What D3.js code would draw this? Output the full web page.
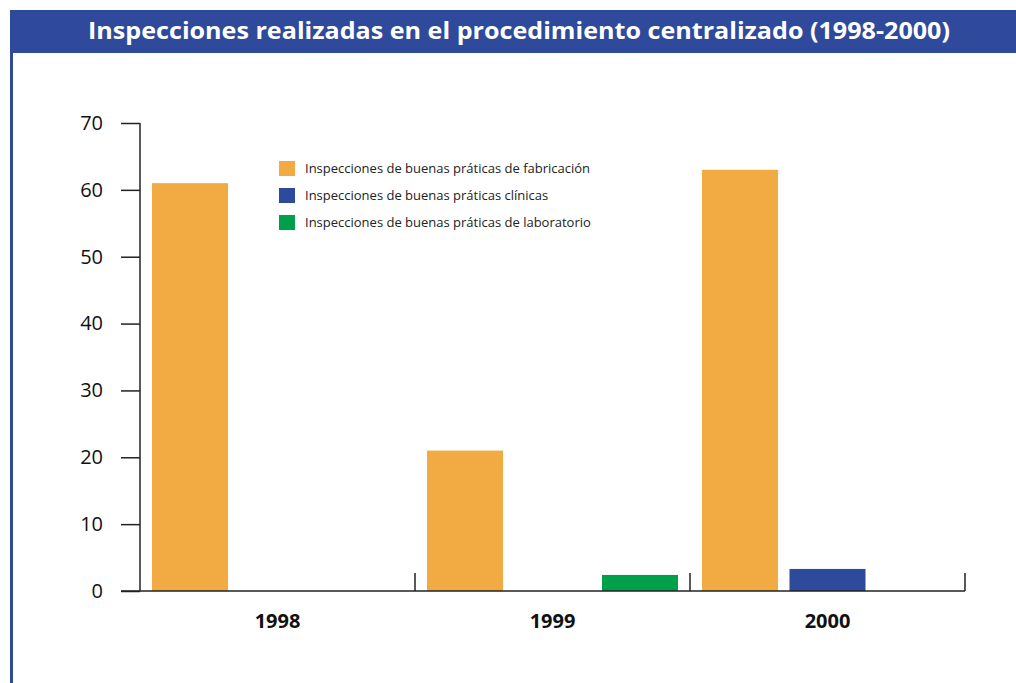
<!DOCTYPE html>
<html>
<head>
<meta charset="utf-8">
<script src="https://cdn.jsdelivr.net/npm/d3@7"></script>
<style>
  body { margin: 0; background: #fff; }
  svg { display: block; }
</style>
</head>
<body>
<div id="chart"></div>
<script>
// Chart data
const years = ["1998", "1999", "2000"];
const seriesNames = [
    "Inspecciones de buenas práticas de fabricación",
    "Inspecciones de buenas práticas clínicas",
    "Inspecciones de buenas práticas de laboratorio"
];
const fabricacion = [61, 21, 63];
const clinicas = [0, 0, 3.3];
const laboratorio = [0, 2.4, 0];
const yTicks = [0, 10, 20, 30, 40, 50, 60, 70];
const titleText = "Inspecciones realizadas en el procedimiento centralizado (1998-2000)";

const colors = ["#f2aa43", "#2e4a9a", "#00a04b"];
const bannerColor = "#2f4a9a";

const W = 1016, H = 683;
const svg = d3.select("#chart").append("svg")
    .attr("width", W)
    .attr("height", H);

// Banner and left rule
svg.append("rect")
    .attr("x", 10).attr("y", 10)
    .attr("width", W - 10).attr("height", 43)
    .attr("fill", bannerColor);
svg.append("rect")
    .attr("x", 10).attr("y", 50)
    .attr("width", 3).attr("height", H - 50)
    .attr("fill", bannerColor);

svg.append("text")
    .attr("x", 519)
    .attr("y", 39)
    .attr("text-anchor", "middle")
    .attr("fill", "#fff")
    .style("font-family", "'Open Sans', sans-serif")
    .style("font-weight", "bold")
    .style("font-size", "23px")
    .attr("textLength", 862)
    .attr("lengthAdjust", "spacingAndGlyphs")
    .text(titleText);

// Scales
const x0 = d3.scaleBand()
    .domain(years)
    .range([140, 965])
    .paddingInner(0)
    .paddingOuter(0);

const x1 = d3.scaleBand()
    .domain(d3.range(3))
    .range([12, x0.bandwidth() - 12])
    .paddingInner(0.131);

const y = d3.scaleLinear()
    .domain([0, 70])
    .range([591, 123]);

// Bars
const series = [fabricacion, clinicas, laboratorio];
const barData = [];
years.forEach((yr, i) => {
    series.forEach((s, j) => {
        barData.push({ year: yr, k: j, value: s[i] });
    });
});

svg.append("g")
    .selectAll("rect")
    .data(barData.filter(d => d.value > 0))
    .join("rect")
    .attr("x", d => x0(d.year) + x1(d.k))
    .attr("y", d => y(d.value))
    .attr("width", x1.bandwidth())
    .attr("height", d => y(0) - y(d.value))
    .attr("fill", d => colors[d.k]);

// Y axis
const yAxis = svg.append("g")
    .attr("transform", "translate(140,0)")
    .call(d3.axisLeft(y).tickValues(yTicks).tickSize(19).tickPadding(18));
yAxis.select(".domain").remove();
yAxis.selectAll("line").attr("stroke", "#222").attr("stroke-width", 1.5);
yAxis.selectAll("text")
    .attr("fill", "#111")
    .style("font-family", "'Open Sans', sans-serif")
    .style("font-size", "20px");
svg.append("line")
    .attr("x1", 140).attr("x2", 140)
    .attr("y1", y(70)).attr("y2", y(0))
    .attr("stroke", "#222").attr("stroke-width", 1.5);

// X axis baseline
svg.append("line")
    .attr("x1", 121).attr("x2", 965)
    .attr("y1", y(0)).attr("y2", y(0))
    .attr("stroke", "#222").attr("stroke-width", 1.5);

// Category dividers
svg.append("g")
    .selectAll("line")
    .data(years.slice(1).concat(["end"]))
    .join("line")
    .attr("x1", (d, i) => i < 2 ? x0(d) : x0(years[2]) + x0.bandwidth())
    .attr("x2", (d, i) => i < 2 ? x0(d) : x0(years[2]) + x0.bandwidth())
    .attr("y1", y(0) - 18).attr("y2", y(0))
    .attr("stroke", "#222").attr("stroke-width", 1.5);

// Category labels
svg.append("g")
    .selectAll("text")
    .data(years)
    .join("text")
    .attr("x", d => x0(d) + x0.bandwidth() / 2)
    .attr("y", 628)
    .attr("text-anchor", "middle")
    .attr("fill", "#111")
    .style("font-family", "'Open Sans', sans-serif")
    .style("font-weight", "bold")
    .style("font-size", "20px")
    .text(d => d);

// Legend
const legend = svg.append("g")
    .attr("transform", "translate(279,161)");
const items = legend.selectAll("g")
    .data(seriesNames)
    .join("g")
    .attr("transform", (d, i) => `translate(0,${i * 27})`);
items.append("rect")
    .attr("width", 16).attr("height", 15)
    .attr("fill", (d, i) => colors[i]);
items.append("text")
    .attr("x", 26).attr("y", 12)
    .attr("fill", "#222")
    .style("font-family", "'Open Sans', sans-serif")
    .style("font-size", "13px")
    .text(d => d);
</script>
</body>
</html>
